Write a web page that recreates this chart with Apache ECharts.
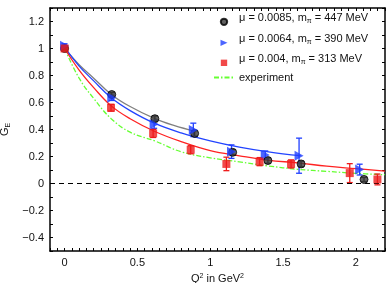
<!DOCTYPE html>
<html><head><meta charset="utf-8">
<script src="https://cdn.jsdelivr.net/npm/echarts@6/dist/echarts.min.js"></script>
<style>html,body{margin:0;padding:0;background:#fff}#c{width:390px;height:283px}</style>
</head><body><div id="c"></div>
<script>
// Lattice data points [Q^2]
const blackX = [0, 0.324, 0.62, 0.893, 1.154, 1.396, 1.624, 2.056];
const blackY = [1.0, 0.659, 0.48, 0.371, 0.231, 0.17, 0.145, 0.03];
const blackErr = [0.01, 0.015, 0.02, 0.02, 0.02, 0.02, 0.02, 0.015];
const blueX = [0, 0.324, 0.615, 0.884, 1.146, 1.378, 1.61, 2.026];
const blueY = [1.02, 0.635, 0.439, 0.397, 0.236, 0.211, 0.206, 0.103];
const blueErr = [0.015, 0.02, 0.03, 0.05, 0.05, 0.03, 0.13, 0.04];
const redX = [0, 0.319, 0.608, 0.866, 1.111, 1.339, 1.555, 1.958, 2.148];
const redY = [1.0, 0.561, 0.371, 0.25, 0.145, 0.162, 0.145, 0.077, 0.03];
const redErr = [0.015, 0.025, 0.03, 0.03, 0.05, 0.03, 0.03, 0.07, 0.04];
// fit curves
const grayFitX = [0, 0.1, 0.2, 0.32, 0.45, 0.62, 0.75, 0.9];
const grayFitY = [1.0, 0.88, 0.78, 0.66, 0.57, 0.48, 0.43, 0.385];
const blueFitX = [0, 0.1, 0.2, 0.32, 0.45, 0.62, 0.8, 1.0, 1.2, 1.4, 1.62];
const blueFitY = [1.01, 0.87, 0.76, 0.635, 0.54, 0.445, 0.375, 0.316, 0.27, 0.235, 0.206];
const redFitX = [0, 0.1, 0.2, 0.32, 0.45, 0.62, 0.8, 1.0, 1.2, 1.4, 1.6, 1.8, 2.0, 2.2];
const redFitY = [1.0, 0.84, 0.71, 0.575, 0.48, 0.385, 0.31, 0.243, 0.205, 0.172, 0.153, 0.128, 0.11, 0.092];
const expX = [0, 0.1, 0.2, 0.32, 0.45, 0.62, 0.8, 1.0, 1.2, 1.4, 1.6, 1.8, 2.0, 2.2];
const expY = [1.0, 0.78, 0.63, 0.48, 0.38, 0.315, 0.235, 0.19, 0.16, 0.13, 0.105, 0.09, 0.075, 0.065];
const names = ['μ = 0.0085, m_π = 447 MeV', 'μ = 0.0064, m_π = 390 MeV', 'μ = 0.004, m_π = 313 MeV', 'experiment'];
const xLabels = [0, 0.5, 1, 1.5, 2];
const yLabels = [-0.4, -0.2, 0, 0.2, 0.4, 0.6, 0.8, 1, 1.2];

const zip = (a, b, c) => a.map((v, i) => c ? [v, b[i], c[i]] : [v, b[i]]);
const FONT = 'Liberation Sans';
const near = (v, arr) => arr.some(a => Math.abs(a - v) < 1e-6);
const fmt = v => (v < 0 ? '−' : '') + String(Math.abs(v));

function errSeries(x, y, e, color) {
  return {
    type: 'custom', silent: true, z: 3,
    data: zip(x, y, e),
    renderItem: (p, api) => {
      const xv = api.value(0), yv = api.value(1), ev = api.value(2);
      const a = api.coord([xv, yv - ev]), b = api.coord([xv, yv + ev]);
      const st = { stroke: color, lineWidth: 1.3 };
      return { type: 'group', children: [
        { type: 'line', shape: { x1: a[0], y1: a[1], x2: b[0], y2: b[1] }, style: st },
        { type: 'line', shape: { x1: a[0] - 3, y1: a[1], x2: a[0] + 3, y2: a[1] }, style: st },
        { type: 'line', shape: { x1: b[0] - 3, y1: b[1], x2: b[0] + 3, y2: b[1] }, style: st }
      ]};
    }
  };
}
function fitSeries(x, y, color, extra) {
  return Object.assign({
    type: 'line', data: zip(x, y), smooth: 0.4, showSymbol: false, symbol: 'none', silent: true,
    lineStyle: { color: color, width: 1.3 }, z: 2
  }, extra || {});
}
const legendFmt = n => {
  if (n.indexOf('_') < 0) return '{a|' + n + '}';
  const [pre, rest] = n.split('_π');
  return '{a|' + pre + '}{s|π}{a|' + rest + '}';
};
const axisCommon = {
  type: 'value', axisLine: { onZero: false, lineStyle: { color: '#000', width: 1.5 } },
  splitLine: { show: false }, axisTick: { inside: true, length: 3, lineStyle: { color: '#000' } }
};
const triPath = 'path://M0,0L10,5L0,10Z';
const sqPath = 'path://M0,0H10V10H0Z';
// legend icons: an empty move-to above each shape drops it a little below the text centre
const legCircle = 'path://M5,-12M0,5A5,5 0 1,0 10,5A5,5 0 1,0 0,5Z';
const legTri = 'path://M5,-12M0,0L11,5L0,10Z';
const legSq = 'path://M5,-12M0,0H10V10H0Z';
const chart = echarts.init(document.getElementById('c'));
chart.setOption({
  animation: false,
  grid: { left: 50, right: 5, top: 8, bottom: 32, containLabel: false, outerBoundsMode: 'none' },
  textStyle: { fontFamily: FONT },
  legend: {
    orient: 'vertical', left: 213, top: 10, padding: 0, itemGap: 6, itemWidth: 20, itemHeight: 14,
    symbolKeepAspect: true,
    data: [
      { name: names[0], icon: legCircle },
      { name: names[1], icon: legTri },
      { name: names[2], icon: legSq },
      { name: names[3], itemStyle: { opacity: 0, color: 'rgba(0,0,0,0)', borderColor: 'rgba(0,0,0,0)', borderWidth: 0 } }
    ],
    formatter: legendFmt,
    textStyle: { fontFamily: FONT, rich: {
      a: { fontSize: 11, fontFamily: FONT, color: '#111', lineHeight: 14 },
      s: { fontSize: 7, fontFamily: FONT, color: '#111', padding: [7, 0, 0, 0], lineHeight: 14 }
    } }
  },
  xAxis: [
    Object.assign({}, axisCommon, {
      min: -0.1, max: 2.2, interval: 0.05, position: 'bottom',
      name: '{a|Q}{b|2}{a| in GeV}{b|2}', nameLocation: 'middle', nameGap: 15,
      nameTextStyle: { rich: { a: { fontSize: 11, fontFamily: FONT, color: '#111' }, b: { fontSize: 7, fontFamily: FONT, color: '#111', padding: [0, 0, 6, 0] } } },
      axisLabel: { margin: 6, fontSize: 11, color: '#111', fontFamily: FONT, showMinLabel: true, showMaxLabel: true,
        formatter: v => near(v, xLabels) ? fmt(Math.round(v * 10) / 10) : '' }
    }),
    Object.assign({}, axisCommon, { min: -0.1, max: 2.2, interval: 0.05, position: 'top', axisLabel: { show: false } })
  ],
  yAxis: [
    Object.assign({}, axisCommon, {
      min: -0.5, max: 1.3, interval: 0.1, position: 'left',
      name: '{a|G}{b|E}', nameLocation: 'middle', nameGap: 29,
      nameTextStyle: { rich: { a: { fontSize: 11, fontFamily: FONT, color: '#111' }, b: { fontSize: 7, fontFamily: FONT, color: '#111', padding: [6, 0, 0, 0] } } },
      axisLabel: { margin: 6, fontSize: 11, color: '#111', fontFamily: FONT,
        formatter: v => near(v, yLabels) ? fmt(Math.round(v * 10) / 10) : '' }
    }),
    Object.assign({}, axisCommon, { min: -0.5, max: 1.3, interval: 0.1, position: 'right', axisLabel: { show: false } })
  ],
  series: [
    fitSeries(expX, expY, '#66ff33', { name: names[3], lineStyle: { color: '#66ff33', width: 1.3, type: [5, 2, 1.5, 2] },
      itemStyle: { color: '#66ff33' },
      markLine: { silent: true, symbol: 'none', label: { show: false },
        lineStyle: { color: '#000', type: [5, 4], width: 1.2 }, data: [{ yAxis: 0 }] } }),
    fitSeries(grayFitX, grayFitY, '#808080'),
    fitSeries(blueFitX, blueFitY, '#2244ff'),
    fitSeries(redFitX, redFitY, '#ff2222'),
    errSeries(blackX, blackY, blackErr, '#222'),
    errSeries(blueX, blueY, blueErr, '#1f3fff'),
    errSeries(redX, redY, redErr, '#ee1c1c'),
    { type: 'scatter', name: names[0], data: zip(blackX, blackY), symbol: 'circle', symbolSize: 8, z: 5,
      itemStyle: { color: '#3a3a3a', borderColor: '#000', borderWidth: 1 } },
    { type: 'scatter', name: names[1], data: zip(blueX, blueY), symbol: triPath, symbolSize: [9, 10], z: 5,
      itemStyle: { color: '#1f3fff' } },
    { type: 'scatter', name: names[2], data: zip(redX, redY), symbol: sqPath, symbolSize: 8, z: 5,
      itemStyle: { color: '#ee1c1c' } }
  ]
});
</script></body></html>
